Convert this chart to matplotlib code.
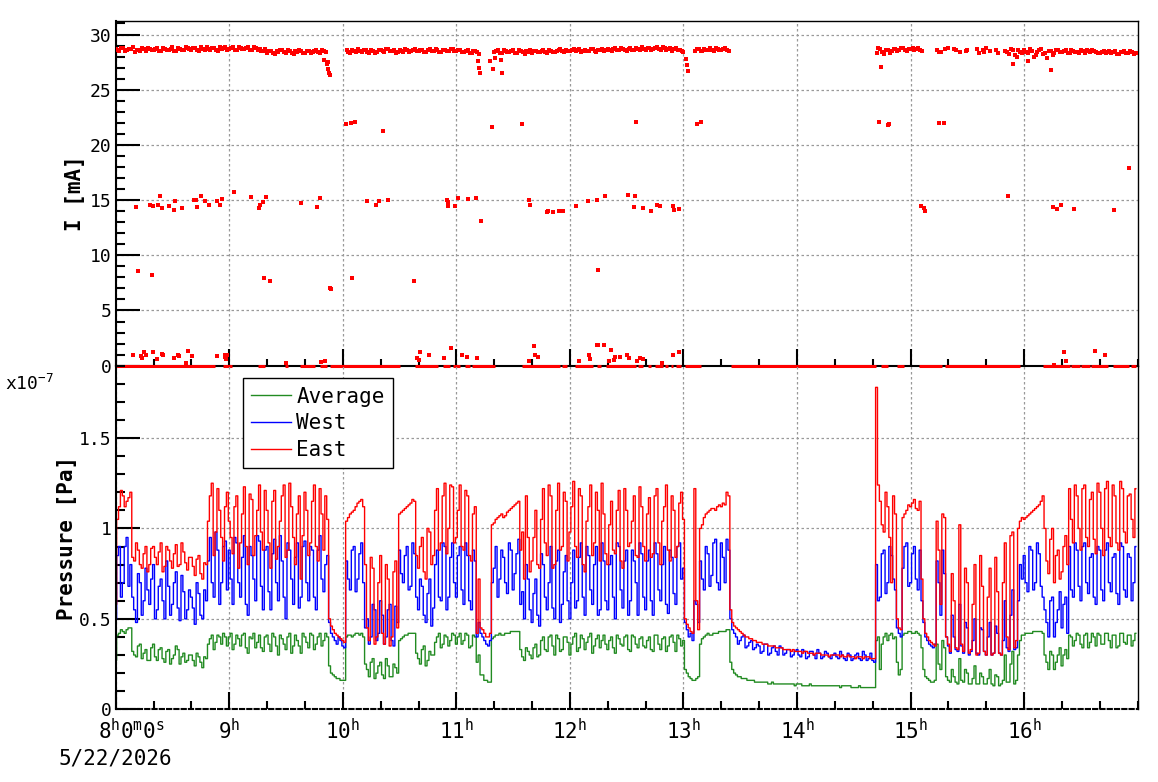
import numpy as np
import matplotlib.pyplot as plt
import matplotlib.transforms as mtransforms
from matplotlib.ticker import MultipleLocator

plt.rcParams['font.family'] = 'DejaVu Sans Mono'
plt.rcParams['mathtext.fontset'] = 'custom'
plt.rcParams['mathtext.rm'] = 'DejaVu Sans Mono'
plt.rcParams['mathtext.it'] = 'DejaVu Sans Mono'

nan = float('nan')

# pressure in units of 1e-9 Pa; *_even = readings at 8:00, 8:02, ...;
# *_odd = readings at 8:01, 8:03, ...  (one row = 20 minutes)
east_even = [
    58, 112, 118, 115, 120, 82, 88, 78, 90, 80,
    90, 80, 92, 79, 88, 78, 91, 80, 87, 77,
    84, 74, 85, 72, 80, 118, 85, 122, 95, 112,
    104, 86, 118, 92, 123, 80, 116, 96, 124, 88,
    110, 78, 121, 90, 118, 84, 125, 95, 108, 72,
    120, 85, 115, 90, 122, 88, 105, 46, 42, 40,
    38, 104, 108, 110, 114, 116, 80, 38, 78, 40,
    85, 36, 72, 40, 82, 108, 110, 112, 114, 115,
    78, 95, 72, 98, 85, 122, 92, 125, 100, 123,
    95, 124, 88, 118, 82, 112, 72, 44, 40, 42,
    103, 106, 108, 107, 110, 112, 114, 88, 72, 95,
    82, 110, 78, 122, 85, 118, 80, 125, 90, 115,
    98, 126, 84, 118, 76, 112, 85, 120, 82, 108,
    80, 115, 86, 121, 78, 110, 92, 118, 84, 112,
    82, 117, 86, 122, 80, 112, 88, 118, 84, 114,
    105, 47, 43, 122, 44, 102, 108, 110, 111, 112,
    112, 113, 118, 48, 45, 43, 41, 40, 39, 38,
    37, 36, 36, 35, 35, 34, 34, 33, 33, 33,
    32, 32, 32, 31, 31, 31, 31, 30, 30, 30,
    30, 30, 30, 29, 29, 29, 29, 29, 29, 29,
    28, 178, 115, 98, 112, 70, 108, 45, 106, 110,
    112, 116, 110, 72, 42, 38, 36, 104, 58, 106,
    36, 75, 34, 102, 32, 70, 33, 80, 31, 68,
    30, 78, 31, 65, 30, 92, 33, 98, 38, 104,
    105, 107, 109, 111, 113, 118, 82, 94, 70, 88,
    76, 96, 122, 92, 118, 88, 124, 90, 120, 86,
    120, 85, 126, 90, 118, 88, 122, 92, 119, 95,
]
east_odd = [
    105, 121, 112, 117, 84, 92, 80, 86, 76, 89,
    84, 87, 76, 90, 82, 86, 79, 92, 81, 84,
    79, 83, 75, 81, 104, 125, 98, 110, 82, 120,
    95, 112, 78, 108, 90, 119, 85, 110, 98, 121,
    92, 115, 83, 104, 124, 88, 112, 80, 118, 96,
    110, 92, 124, 82, 108, 118, 50, 44, 41, 39,
    37, 106, 109, 112, 115, 112, 45, 84, 36, 70,
    42, 80, 35, 76, 45, 109, 111, 113, 116, 85,
    90, 76, 100, 80, 110, 88, 118, 86, 124, 92,
    110, 90, 121, 85, 108, 42, 45, 42, 40, 102,
    105, 107, 106, 109, 111, 113, 115, 98, 118, 76,
    95, 80, 105, 92, 124, 78, 110, 88, 120, 82,
    112, 90, 122, 80, 104, 124, 92, 110, 125, 86,
    102, 88, 110, 82, 122, 90, 104, 85, 123, 90,
    108, 84, 118, 92, 104, 124, 82, 110, 90, 120,
    50, 45, 42, 60, 100, 106, 109, 111, 110, 113,
    114, 120, 55, 46, 44, 42, 40, 39, 38, 37,
    37, 36, 35, 35, 34, 34, 33, 33, 32, 32,
    32, 31, 32, 31, 30, 31, 30, 30, 29, 30,
    30, 29, 29, 30, 29, 28, 29, 28, 29, 28,
    28, 124, 102, 120, 95, 118, 50, 44, 108, 113,
    114, 111, 115, 50, 40, 37, 35, 88, 108, 40,
    32, 60, 33, 36, 78, 31, 58, 30, 85, 32,
    62, 30, 84, 31, 70, 40, 96, 34, 100, 106,
    106, 108, 110, 112, 115, 100, 75, 100, 85, 72,
    90, 80, 105, 124, 100, 122, 95, 116, 94, 125,
    100, 122, 95, 124, 92, 126, 98, 118, 105, 122,
]
west_even = [
    50, 90, 70, 95, 80, 55, 75, 52, 78, 58,
    80, 55, 72, 50, 68, 58, 76, 49, 65, 55,
    62, 47, 64, 50, 60, 95, 62, 88, 70, 93,
    88, 58, 92, 62, 96, 52, 85, 60, 93, 55,
    90, 55, 94, 60, 82, 50, 88, 58, 92, 62,
    93, 60, 88, 55, 96, 65, 85, 42, 38, 40,
    35, 82, 66, 90, 72, 92, 45, 36, 58, 38,
    60, 36, 55, 38, 57, 88, 70, 90, 68, 86,
    55, 68, 48, 72, 56, 88, 60, 90, 62, 92,
    62, 90, 58, 85, 55, 82, 48, 40, 36, 38,
    78, 62, 88, 70, 92, 66, 86, 58, 50, 72,
    48, 72, 46, 80, 55, 90, 50, 88, 58, 85,
    50, 88, 60, 92, 52, 85, 58, 90, 55, 82,
    55, 85, 50, 90, 56, 88, 60, 82, 52, 86,
    55, 88, 52, 86, 60, 90, 53, 84, 58, 92,
    78, 44, 42, 60, 48, 72, 90, 68, 92, 70,
    92, 70, 88, 44, 40, 38, 41, 35, 38, 34,
    35, 32, 36, 31, 35, 30, 34, 31, 33, 30,
    33, 29, 32, 29, 32, 28, 31, 29, 31, 28,
    31, 28, 30, 27, 30, 28, 31, 27, 30, 28,
    27, 80, 62, 88, 70, 85, 66, 42, 78, 92,
    70, 90, 66, 60, 40, 36, 34, 82, 52, 75,
    35, 52, 33, 58, 31, 45, 32, 50, 30, 44,
    30, 48, 31, 42, 30, 60, 32, 66, 34, 80,
    85, 65, 88, 70, 86, 62, 48, 60, 40, 55,
    45, 62, 90, 62, 88, 60, 92, 64, 86, 58,
    88, 60, 92, 65, 86, 58, 90, 62, 84, 70,
]
west_odd = [
    85, 62, 90, 68, 62, 48, 70, 60, 66, 72,
    50, 68, 60, 82, 52, 70, 56, 74, 50, 66,
    56, 70, 52, 66, 82, 70, 98, 58, 90, 66,
    72, 95, 70, 84, 58, 90, 72, 96, 68, 88,
    65, 86, 70, 96, 62, 92, 72, 84, 56, 90,
    70, 90, 62, 88, 72, 80, 48, 40, 36, 38,
    34, 72, 88, 65, 86, 70, 50, 40, 55, 42,
    52, 40, 58, 35, 48, 75, 85, 66, 92, 62,
    72, 52, 64, 46, 80, 62, 92, 55, 84, 70,
    85, 66, 92, 60, 88, 40, 42, 38, 35, 70,
    90, 72, 84, 64, 88, 75, 94, 65, 80, 55,
    64, 52, 86, 62, 70, 56, 82, 48, 76, 60,
    70, 56, 84, 62, 90, 66, 80, 52, 92, 60,
    80, 62, 92, 66, 82, 52, 88, 70, 92, 62,
    82, 60, 92, 66, 80, 58, 88, 64, 90, 72,
    48, 40, 38, 58, 82, 66, 86, 74, 94, 66,
    84, 94, 50, 42, 36, 40, 34, 37, 33, 36,
    31, 36, 30, 34, 32, 35, 30, 33, 29, 32,
    30, 33, 28, 32, 30, 33, 28, 32, 29, 30,
    29, 32, 28, 31, 27, 30, 28, 32, 27, 31,
    26, 60, 86, 64, 90, 72, 45, 40, 90, 68,
    86, 72, 88, 48, 38, 35, 36, 70, 88, 40,
    31, 40, 32, 35, 48, 30, 38, 31, 45, 32,
    40, 30, 46, 31, 38, 34, 52, 33, 60, 72,
    70, 90, 66, 92, 68, 55, 40, 62, 48, 65,
    58, 42, 66, 92, 68, 90, 70, 84, 62, 90,
    66, 88, 70, 84, 64, 92, 66, 86, 60, 90,
]
average_even = [
    27, 42, 43, 44, 45, 30, 35, 28, 33, 27,
    36, 27, 34, 26, 33, 28, 35, 25, 31, 27,
    30, 24, 29, 23, 28, 39, 33, 41, 36, 40,
    40, 33, 41, 35, 42, 31, 39, 34, 41, 32,
    41, 32, 40, 30, 39, 33, 42, 35, 38, 31,
    40, 34, 41, 36, 42, 38, 40, 20, 18, 17,
    16, 40, 41, 41, 42, 42, 25, 18, 28, 20,
    26, 17, 24, 18, 23, 38, 40, 41, 42, 42,
    28, 33, 24, 32, 30, 40, 34, 41, 35, 42,
    36, 42, 38, 41, 35, 40, 30, 19, 16, 15,
    40, 41, 41, 42, 42, 43, 43, 33, 27, 32,
    28, 36, 30, 40, 32, 41, 30, 39, 33, 40,
    30, 40, 32, 41, 33, 40, 31, 39, 34, 41,
    33, 40, 31, 39, 35, 41, 32, 40, 34, 40,
    34, 40, 32, 41, 33, 40, 35, 41, 32, 39,
    38, 20, 17, 16, 18, 39, 41, 41, 42, 42,
    43, 43, 44, 22, 19, 18, 17, 16, 16, 15,
    15, 15, 15, 14, 14, 14, 14, 14, 14, 14,
    14, 14, 13, 13, 13, 13, 13, 13, 13, 13,
    13, 13, 13, 13, 13, 12, 12, 12, 12, 12,
    12, 38, 22, 40, 38, 42, 40, 19, 41, 42,
    43, 42, 42, 34, 18, 16, 15, 36, 22, 34,
    16, 22, 15, 28, 15, 20, 14, 24, 14, 18,
    14, 22, 13, 18, 14, 30, 15, 32, 16, 38,
    41, 42, 42, 43, 43, 42, 26, 32, 22, 30,
    24, 33, 41, 35, 42, 36, 41, 34, 42, 35,
    41, 36, 42, 34, 41, 35, 42, 36, 41, 38,
]
average_odd = [
    41, 44, 42, 45, 32, 29, 36, 31, 27, 34,
    29, 33, 28, 32, 25, 30, 33, 29, 26, 30,
    27, 31, 26, 29, 36, 41, 37, 40, 42, 35,
    42, 36, 39, 41, 34, 40, 42, 37, 34, 40,
    36, 42, 35, 41, 36, 40, 31, 41, 35, 42,
    37, 42, 33, 40, 35, 42, 24, 19, 17, 16,
    16, 41, 40, 42, 41, 40, 22, 26, 17, 24,
    19, 28, 18, 25, 20, 39, 41, 42, 42, 31,
    25, 35, 27, 30, 37, 42, 36, 40, 38, 41,
    40, 36, 42, 34, 41, 26, 19, 16, 15, 39,
    41, 42, 41, 42, 43, 43, 43, 29, 34, 30,
    34, 29, 38, 33, 40, 35, 41, 32, 40, 37,
    36, 42, 34, 39, 37, 42, 35, 41, 38, 36,
    38, 34, 41, 36, 40, 33, 41, 36, 39, 35,
    38, 33, 41, 36, 39, 32, 40, 37, 41, 35,
    22, 18, 16, 17, 36, 40, 42, 41, 42, 43,
    43, 44, 26, 20, 18, 17, 17, 16, 16, 15,
    15, 15, 14, 15, 14, 14, 14, 14, 14, 13,
    14, 13, 13, 14, 13, 13, 13, 13, 13, 13,
    13, 12, 13, 13, 12, 12, 13, 12, 12, 12,
    12, 40, 36, 42, 41, 39, 26, 22, 42, 43,
    42, 43, 41, 22, 17, 15, 16, 25, 38, 18,
    15, 18, 14, 16, 22, 14, 17, 14, 20, 14,
    17, 14, 19, 13, 16, 15, 25, 14, 30, 41,
    42, 42, 43, 43, 43, 30, 22, 30, 26, 34,
    30, 28, 40, 38, 41, 34, 42, 37, 40, 42,
    36, 42, 38, 41, 34, 42, 37, 41, 35, 42,
]

# beam current [mA] on the same grid (nan = no reading)
current_even = [
    28.7, 28.5, 28.8, 28.6, 28.7, 28.4, 28.6, 28.8, 28.5, 28.7,
    28.6, 28.8, 28.5, 28.7, 28.6, 28.9, 28.5, 28.7, 28.6, 28.8,
    28.6, 28.8, 28.5, 28.7, 28.9, 28.6, 28.8, 28.5, 28.7, 28.9,
    28.7, 28.9, 28.6, 28.8, 28.7, 28.9, 28.6, 28.8, 28.7, 28.5,
    28.3, 28.5, 28.2, 28.4, 28.6, 28.3, 28.5, 28.2, 28.4, 28.5,
    28.3, 28.5, 28.4, 28.6, 28.3, 28.5, 27.5, nan, nan, nan,
    nan, 28.6, 28.3, 28.5, 28.7, 28.4, 28.6, 28.3, 28.5, 28.4,
    28.6, 28.4, 28.7, 28.5, 28.3, 28.6, 28.4, 28.6, 28.5, 28.7,
    28.5, 28.6, 28.4, 28.7, 28.5, 28.6, 28.4, 28.6, 28.5, 28.7,
    28.5, 28.6, 28.4, 28.6, 28.3, 28.5, 28.2, nan, nan, nan,
    28.4, 28.6, 28.3, 28.5, 28.4, 28.6, 28.3, 28.5, 28.2, 28.4,
    28.3, 28.5, 28.4, 28.6, 28.3, 28.5, 28.4, 28.6, 28.5, 28.6,
    28.5, 28.7, 28.6, 28.4, 28.6, 28.5, 28.7, 28.4, 28.6, 28.5,
    28.7, 28.5, 28.8, 28.6, 28.7, 28.5, 28.8, 28.6, 28.7, 28.9,
    28.6, 28.8, 28.7, 28.9, 28.6, 28.8, 28.7, 28.5, 28.8, 28.6,
    28.4, nan, nan, 28.5, 28.7, 28.5, 28.6, 28.8, 28.5, 28.7,
    28.6, 28.8, 28.5, nan, nan, nan, nan, nan, nan, nan,
    nan, nan, nan, nan, nan, nan, nan, nan, nan, nan,
    nan, nan, nan, nan, nan, nan, nan, nan, nan, nan,
    nan, nan, nan, nan, nan, nan, nan, nan, nan, nan,
    nan, 28.3, 28.7, 28.2, 28.6, 28.5, 28.7, 28.6, 28.8, 28.5,
    28.7, 28.6, 28.8, 28.5, nan, nan, nan, 28.6, 28.4, 28.7,
    28.8, nan, 28.6, 28.4, nan, 28.6, nan, nan, 28.3, 28.6,
    28.8, 28.5, nan, 28.3, nan, 28.5, 28.2, 28.6, 28.0, 28.4,
    28.6, 28.3, 28.5, 28.1, 28.6, 28.2, 27.9, 28.5, 28.3, 28.6,
    28.4, 28.6, 28.3, 28.5, 28.4, 28.6, 28.3, 28.5, 28.6, 28.4,
    28.3, 28.5, 28.4, 28.3, 28.5, 28.2, 28.4, 28.3, 28.5, 28.2,
]
current_odd = [
    28.6, 28.8, 28.5, 28.7, 28.9, 28.6, 28.5, 28.7, 28.8, 28.6,
    28.7, 28.5, 28.8, 28.6, 28.7, 28.5, 28.8, 28.6, 28.9, 28.7,
    28.8, 28.6, 28.9, 28.6, 28.7, 28.8, 28.6, 28.9, 28.8, 28.6,
    28.8, 28.6, 28.9, 28.7, 28.8, 28.6, 28.9, 28.6, 28.5, 28.7,
    28.5, 28.3, 28.5, 28.6, 28.4, 28.6, 28.3, 28.5, 28.6, 28.3,
    28.5, 28.3, 28.5, 28.4, 28.6, 28.4, nan, nan, nan, nan,
    nan, 28.4, 28.6, 28.4, 28.5, 28.6, 28.4, 28.6, 28.3, 28.6,
    28.5, 28.7, 28.5, 28.6, 28.4, 28.5, 28.7, 28.4, 28.6, 28.5,
    28.6, 28.4, 28.6, 28.5, 28.7, 28.4, 28.6, 28.5, 28.7, 28.5,
    28.6, 28.4, 28.5, 28.3, 28.5, 28.4, nan, nan, nan, nan,
    28.5, 28.3, 28.6, 28.4, 28.5, 28.3, 28.6, 28.4, 28.5, 28.6,
    28.5, 28.4, 28.5, 28.4, 28.6, 28.4, 28.5, 28.7, 28.4, 28.5,
    28.6, 28.5, 28.7, 28.5, 28.5, 28.7, 28.5, 28.6, 28.7, 28.6,
    28.6, 28.7, 28.6, 28.8, 28.6, 28.7, 28.6, 28.8, 28.6, 28.7,
    28.8, 28.6, 28.8, 28.7, 28.9, 28.6, 28.8, 28.7, 28.6, 28.5,
    nan, nan, nan, 28.7, 28.5, 28.7, 28.6, 28.6, 28.8, 28.6,
    28.7, 28.6, nan, nan, nan, nan, nan, nan, nan, nan,
    nan, nan, nan, nan, nan, nan, nan, nan, nan, nan,
    nan, nan, nan, nan, nan, nan, nan, nan, nan, nan,
    nan, nan, nan, nan, nan, nan, nan, nan, nan, nan,
    nan, 28.8, 28.4, 28.6, 28.3, 28.7, 28.5, 28.8, 28.6, 28.7,
    28.8, 28.7, 28.6, nan, nan, nan, nan, 28.4, nan, nan,
    nan, 28.7, nan, nan, 28.5, nan, nan, 28.7, nan, 28.4,
    nan, nan, 28.6, nan, nan, 28.4, 28.7, 28.1, 28.6, 28.3,
    28.4, 28.7, 28.0, 28.4, 28.7, 28.3, 28.5, 28.1, 28.6, 28.4,
    28.5, 28.3, 28.6, 28.4, 28.3, 28.5, 28.6, 28.4, 28.5, 28.3,
    28.4, 28.3, 28.5, 28.4, 28.2, 28.4, 28.5, 28.3, 28.4, 28.3,
]

# isolated current readings: hour of day and value [mA]
spike_t = [
    9.86, 9.87, 9.88, 9.89, 11.19, 11.20, 11.21, 13.02, 13.03, 13.04,
    9.83, 11.30, 11.32, 11.34, 11.39, 11.40, 14.74, 15.90, 16.24, 16.03,
    10.03, 10.07, 10.11, 10.35, 11.31, 11.58, 12.58, 13.12, 13.15,
    14.72, 14.80, 14.81, 15.25, 15.29, 16.92,
    8.18, 8.30, 8.33, 8.37, 8.39, 8.41, 8.47, 8.51, 8.52, 8.58,
    8.69, 8.71, 8.72, 8.75, 8.79, 8.82, 8.89, 8.92, 8.94, 9.04,
    9.19, 9.26, 9.27, 9.30, 9.32, 9.63, 9.77, 9.80, 10.21, 10.29,
    10.32, 10.40, 10.92, 10.925, 10.93, 10.99, 11.01, 11.10, 11.17, 11.22,
    11.64, 11.65, 11.80, 11.81, 11.85, 11.90, 11.94, 12.05, 12.16, 12.24,
    12.31, 12.51, 12.57, 12.56, 12.64, 12.71, 12.77, 12.79, 12.91, 12.92,
    12.96, 15.09, 15.12, 15.13, 15.86, 16.25, 16.29, 16.32, 16.44, 16.79,
    8.20, 8.32, 9.31, 9.36, 9.89, 9.90, 10.08, 10.63, 12.25,
    8.15, 8.22, 8.23, 8.25, 8.27, 8.33, 8.36, 8.41, 8.42, 8.51,
    8.55, 8.56, 8.62, 8.64, 8.67, 8.89, 8.96, 8.965, 8.97, 8.98,
    9.50, 9.81, 9.84, 10.65, 10.67, 10.68, 10.76, 10.89, 10.95, 11.05,
    11.09, 11.18, 11.64, 11.68, 11.69, 11.72, 12.08, 12.17, 12.18, 12.24,
    12.25, 12.30, 12.34, 12.36, 12.39, 12.40, 12.44, 12.50, 12.52, 12.59,
    12.62, 12.64, 12.81, 12.91, 12.96, 16.35, 16.37, 16.62, 16.71, 16.26,
]
spike_i = [
    27.3, 26.9, 26.5, 26.3, 27.6, 27.0, 26.5, 27.8, 27.2, 26.7,
    27.7, 27.6, 26.9, 27.9, 27.7, 26.5, 27.1, 27.3, 26.8, 27.6,
    21.9, 22.0, 22.1, 21.3, 21.6, 21.9, 22.1, 21.9, 22.1,
    22.1, 21.8, 21.9, 22.0, 21.95, 17.9,
    14.4, 14.6, 14.5, 14.6, 15.4, 14.3, 14.5, 14.1, 14.9, 14.3,
    15.0, 15.0, 14.4, 15.4, 14.9, 14.6, 14.9, 14.6, 15.1, 15.7,
    15.3, 14.3, 14.6, 14.8, 15.3, 14.7, 14.4, 15.2, 14.9, 14.6,
    14.9, 15.0, 15.0, 14.5, 14.8, 14.5, 15.2, 15.1, 15.2, 13.1,
    15.0, 14.6, 13.9, 14.0, 13.9, 14.0, 14.0, 14.5, 14.9, 15.0,
    15.4, 15.5, 15.4, 14.4, 14.3, 14.0, 14.6, 14.5, 14.5, 14.1,
    14.2, 14.5, 14.3, 14.0, 15.4, 14.4, 14.2, 14.6, 14.2, 14.1,
    8.6, 8.2, 7.9, 7.7, 7.0, 6.9, 7.9, 7.65, 8.7,
    1.0, 0.9, 0.7, 1.2, 1.0, 1.2, 0.6, 1.1, 1.0, 0.7,
    1.0, 0.9, 0.2, 1.3, 0.9, 0.9, 1.0, 0.8, 0.6, 1.0,
    0.2, 0.3, 0.4, 0.7, 0.5, 1.2, 1.0, 0.7, 1.6, 1.0,
    0.8, 0.7, 0.4, 1.8, 1.0, 0.8, 0.4, 1.0, 0.6, 1.9,
    1.9, 1.9, 0.4, 1.4, 0.5, 0.8, 0.8, 1.0, 0.7, 0.4,
    0.7, 0.6, 0.2, 1.0, 1.2, 1.2, 0.4, 1.3, 1.0, 0.1,
]

# stretches where the current reads zero (start hour, end hour)
zero_start = [8.00, 8.947, 9.255, 9.490, 9.622, 9.798, 9.887, 10.635, 10.884, 10.972,
              11.075, 11.134, 11.574, 11.926, 12.043, 12.234, 12.322, 12.600, 12.688,
              12.747, 12.835, 12.894, 12.938, 13.011, 13.416, 14.743, 14.877, 15.074,
              15.300, 16.166, 16.415, 16.503, 16.592, 16.782, 16.944]
zero_end = [8.874, 9.021, 9.314, 9.519, 9.754, 9.857, 10.503, 10.840, 10.943, 11.031,
            11.119, 11.339, 11.911, 11.970, 12.204, 12.278, 12.586, 12.644, 12.718,
            12.821, 12.865, 12.909, 12.982, 13.158, 14.699, 14.801, 14.939, 15.280,
            15.960, 16.401, 16.489, 16.577, 16.738, 16.923, 16.982]


def merge(even, odd):
    return np.column_stack([even, odd]).ravel()


t = 8 + np.arange(2 * len(east_even)) / 60.0
east = merge(east_even, east_odd) / 100
west = merge(west_even, west_odd) / 100
average = merge(average_even, average_odd) / 100
current = merge(current_even, current_odd)

fig = plt.figure(figsize=(11.58, 7.82), dpi=100)
ax1 = fig.add_axes([0.0999, 0.5324, 0.8826, 0.4404])
ax2 = fig.add_axes([0.0999, 0.0930, 0.8826, 0.4394])
ax2.patch.set_visible(False)

grid_kw = dict(color='#999999', linestyle=(0, (2, 2)), linewidth=0.9)

# top: beam current
ax1.plot(t, current, 's', ms=2.4, mew=0, color='red', zorder=3)
ax1.plot(spike_t, spike_i, 's', ms=2.4, mew=0, color='red', zorder=3)
ax1.hlines(np.zeros(len(zero_start)), zero_start, zero_end, colors='red', lw=2.2,
           clip_on=False, zorder=4)
ax1.set_xlim(8, 17)
ax1.set_ylim(0, 31.2)
ax1.set_xticks(range(8, 17))
ax1.xaxis.set_minor_locator(MultipleLocator(1 / 3))
ax1.set_yticks(range(0, 31, 5))
ax1.yaxis.set_minor_locator(MultipleLocator(1))
ax1.tick_params(axis='x', which='both', direction='in', labelbottom=False, width=1.5)
ax1.tick_params(axis='x', which='major', length=12.5)
ax1.tick_params(axis='x', which='minor', length=5)
ax1.tick_params(axis='y', which='both', direction='in', width=1.5, labelsize=13, pad=3)
ax1.tick_params(axis='y', which='major', length=17)
ax1.tick_params(axis='y', which='minor', length=6.5)
ax1.grid(True, which='major', **grid_kw)
ax1.set_ylabel('I [mA]', fontsize=15, fontweight='bold')
ax1.yaxis.set_label_coords(-0.030, 0.5)
for s in ['top', 'right']:
    ax1.spines[s].set_linewidth(1.0)
for s in ['left', 'bottom']:
    ax1.spines[s].set_linewidth(1.5)

# bottom: pressures
ax2.plot(t, average, color='#228b22', lw=1.0, drawstyle='steps-mid', label='Average')
ax2.plot(t, west, color='blue', lw=1.0, drawstyle='steps-mid', label='West')
ax2.plot(t, east, color='red', lw=1.0, drawstyle='steps-mid', label='East')
ax2.set_xlim(8, 17)
ax2.set_ylim(0, 1.9)
ax2.set_xticks(range(8, 17))
ax2.set_xticklabels([''] + [r'$%d^{\mathrm{h}}$' % h for h in range(9, 17)])
ax2.xaxis.set_minor_locator(MultipleLocator(1 / 3))
ax2.set_yticks([0, 0.5, 1, 1.5])
ax2.set_yticklabels(['0', '0.5', '1', '1.5'])
ax2.yaxis.set_minor_locator(MultipleLocator(0.1))
ax2.tick_params(axis='x', which='both', direction='in', width=1.5, labelsize=15, pad=6.5)
ax2.tick_params(axis='x', which='major', length=12.5)
ax2.tick_params(axis='x', which='minor', length=5.5)
ax2.tick_params(axis='y', which='both', direction='in', width=1.5, labelsize=13, pad=3)
ax2.tick_params(axis='y', which='major', length=17)
ax2.tick_params(axis='y', which='minor', length=6.5)
ax2.grid(True, which='major', **grid_kw)
ax2.spines['top'].set_visible(False)
ax2.spines['left'].set_linewidth(1.5)
ax2.spines['right'].set_linewidth(1.0)
ax2.spines['bottom'].set_linestyle((0, (2, 1.5)))
ax2.spines['bottom'].set_linewidth(1.5)
ax2.set_ylabel('Pressure [Pa]', fontsize=15, fontweight='bold')
ax2.yaxis.set_label_coords(-0.0378, 0.5)

leg = ax2.legend(loc='upper left', bbox_to_anchor=(0.1246, 0.963), borderaxespad=0,
                 fontsize=15, handlelength=1.9, handletextpad=0.25, labelspacing=0.32,
                 borderpad=0.4, fancybox=False, framealpha=1, edgecolor='black')
leg.get_frame().set_linewidth(1.0)

tr = mtransforms.blended_transform_factory(ax2.transData, ax2.transAxes)
ax2.text(8.139, -0.026, r'$8^{\mathrm{h}}0^{\mathrm{m}}0^{\mathrm{s}}$', transform=tr,
         ha='center', va='top', fontsize=15)
fig.text(115 / 1158, 1 - 749 / 782, '5/22/2026', ha='center', va='top', fontsize=15)
fig.text(5 / 1158, 1 - 390 / 782, r'x10$^{-7}$', ha='left', va='baseline', fontsize=13)

fig.savefig('out.png', dpi=100)
